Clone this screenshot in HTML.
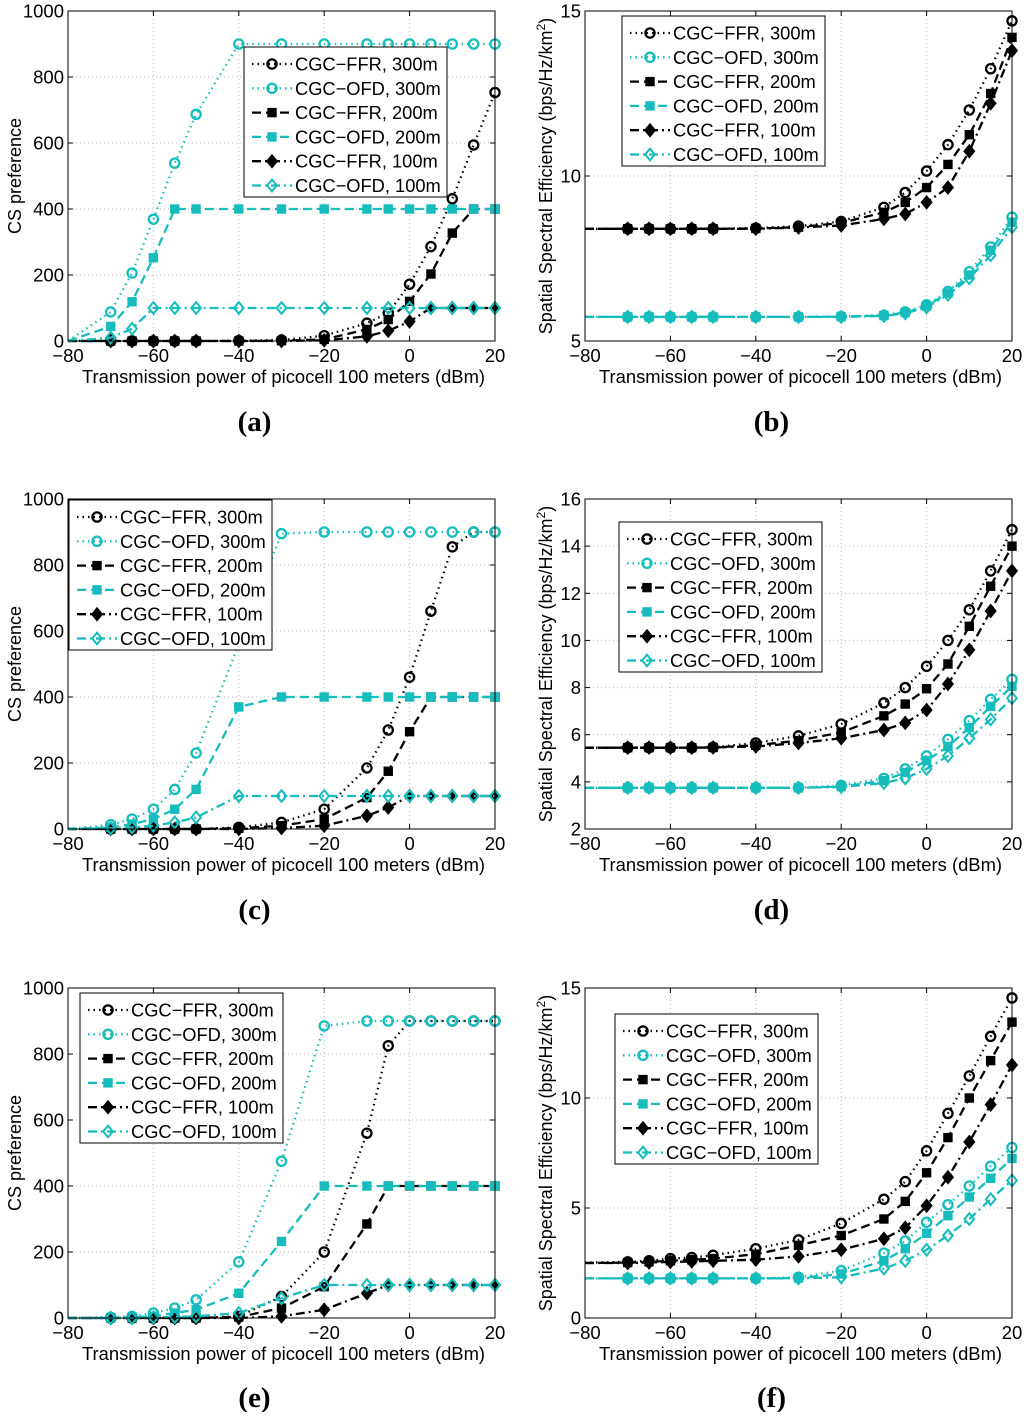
<!DOCTYPE html>
<html><head><meta charset="utf-8">
<style>
html,body{margin:0;padding:0;background:#fff;}
svg text{font-family:"Liberation Sans",sans-serif;fill:#000;}
</style></head>
<body>
<svg id="fig" width="1024" height="1412" viewBox="0 0 1024 1412" xmlns="http://www.w3.org/2000/svg"></svg>
<script>
const xVals = [-80,-70,-65,-60,-55,-50,-40,-30,-20,-10,-5,0,5,10,15,20];
const xTicks = [-80,-60,-40,-20,0,20];
const seriesNames = ["CGC\u2212FFR, 300m","CGC\u2212OFD, 300m","CGC\u2212FFR, 200m","CGC\u2212OFD, 200m","CGC\u2212FFR, 100m","CGC\u2212OFD, 100m"];

const aFFR300 = [0,0,0,0,0,0,1,3,16,54,85,172,286,431,594,753];
const aOFD300 = [0,88,206,369,539,687,900,900,900,900,900,900,900,900,900,900];
const aFFR200 = [0,0,0,0,0,0,0,1,5,35,65,120,203,327,400,400];
const aOFD200 = [0,44,119,252,400,400,400,400,400,400,400,400,400,400,400,400];
const aFFR100 = [0,0,0,0,0,0,0,0,2,14,31,59,100,100,100,100];
const aOFD100 = [0,10,37,100,100,100,100,100,100,100,100,100,100,100,100,100];

const bFFR300 = [8.4,8.4,8.4,8.4,8.4,8.4,8.42,8.48,8.62,9.05,9.5,10.15,10.95,12.0,13.25,14.7];
const bOFD300 = [5.73,5.73,5.73,5.73,5.73,5.73,5.73,5.73,5.74,5.78,5.88,6.1,6.5,7.1,7.85,8.75];
const bFFR200 = [8.4,8.4,8.4,8.4,8.4,8.4,8.41,8.45,8.58,8.9,9.2,9.65,10.35,11.25,12.5,14.2];
const bOFD200 = [5.73,5.73,5.73,5.73,5.73,5.73,5.73,5.73,5.74,5.77,5.86,6.06,6.45,7.0,7.75,8.6];
const bFFR100 = [8.4,8.4,8.4,8.4,8.4,8.4,8.4,8.44,8.5,8.7,8.85,9.2,9.65,10.75,12.2,13.8];
const bOFD100 = [5.73,5.73,5.73,5.73,5.73,5.73,5.73,5.73,5.73,5.76,5.84,6.02,6.4,6.9,7.6,8.45];

const cFFR300 = [0,0,0,0,0,0,5,20,60,185,300,460,660,855,900,900];
const cOFD300 = [0,13,30,60,120,230,560,895,900,900,900,900,900,900,900,900];
const cFFR200 = [0,0,0,0,0,0,2,10,30,95,175,295,400,400,400,400];
const cOFD200 = [0,5,15,30,60,120,370,400,400,400,400,400,400,400,400,400];
const cFFR100 = [0,0,0,0,0,0,0,3,10,40,65,100,100,100,100,100];
const cOFD100 = [0,2,5,10,20,35,100,100,100,100,100,100,100,100,100,100];

const dFFR300 = [5.45,5.45,5.45,5.45,5.45,5.47,5.65,5.95,6.45,7.35,8.0,8.9,10.0,11.3,12.95,14.7];
const dOFD300 = [3.75,3.75,3.75,3.75,3.75,3.75,3.75,3.75,3.85,4.15,4.55,5.1,5.8,6.6,7.5,8.35];
const dFFR200 = [5.45,5.45,5.45,5.45,5.45,5.46,5.55,5.75,6.1,6.8,7.3,7.95,9.0,10.6,12.3,14.0];
const dOFD200 = [3.75,3.75,3.75,3.75,3.75,3.75,3.75,3.75,3.8,4.05,4.4,4.9,5.5,6.3,7.2,8.05];
const dFFR100 = [5.45,5.45,5.45,5.45,5.45,5.46,5.5,5.65,5.85,6.2,6.5,7.05,8.15,9.6,11.25,12.95];
const dOFD100 = [3.75,3.75,3.75,3.75,3.75,3.75,3.75,3.75,3.78,3.95,4.15,4.55,5.1,5.85,6.65,7.55];

const eFFR300 = [0,0,0,0,0,0,5,65,200,560,825,900,900,900,900,900];
const eOFD300 = [0,2,5,15,30,55,170,475,885,900,900,900,900,900,900,900];
const eFFR200 = [0,0,0,0,0,0,3,30,95,285,400,400,400,400,400,400];
const eOFD200 = [0,0,2,5,15,25,75,232,400,400,400,400,400,400,400,400];
const eFFR100 = [0,0,0,0,0,0,0,5,25,75,100,100,100,100,100,100];
const eOFD100 = [0,0,0,2,3,5,15,60,100,100,100,100,100,100,100,100];

const fFFR300 = [2.52,2.55,2.6,2.7,2.75,2.85,3.15,3.55,4.3,5.4,6.2,7.6,9.3,11.0,12.8,14.55];
const fOFD300 = [1.8,1.8,1.8,1.8,1.8,1.8,1.8,1.85,2.15,2.95,3.5,4.35,5.15,6.0,6.9,7.75];
const fFFR200 = [2.5,2.52,2.55,2.6,2.65,2.7,2.9,3.3,3.75,4.5,5.3,6.6,8.2,10.0,11.7,13.45];
const fOFD200 = [1.8,1.8,1.8,1.8,1.8,1.8,1.8,1.82,2.0,2.6,3.15,3.85,4.65,5.5,6.35,7.25];
const fFFR100 = [2.5,2.5,2.52,2.55,2.57,2.6,2.65,2.8,3.1,3.6,4.1,5.1,6.4,8.0,9.7,11.5];
const fOFD100 = [1.8,1.8,1.8,1.8,1.8,1.8,1.8,1.8,1.85,2.25,2.6,3.1,3.75,4.5,5.4,6.25];

const csTicks = [0,200,400,600,800,1000];
const bTicks = [5,10,15];
const dTicks = [2,4,6,8,10,12,14,16];
const fTicks = [0,5,10,15];

const NS = "http://www.w3.org/2000/svg";
const svg = document.getElementById("fig");
const CY = "#17bcbc";
const styles = [
  {c:"#000",dash:"1.5,4",m:"circle"},
  {c:CY,dash:"1.5,4",m:"circle"},
  {c:"#000",dash:"9,5",m:"square"},
  {c:CY,dash:"9,5",m:"square"},
  {c:"#000",dash:"9,4,2,4",m:"diamond"},
  {c:CY,dash:"9,4,2,4",m:"diamond"}
];
function el(tag, attrs, parent){
  const e = document.createElementNS(NS, tag);
  for (const k in attrs) e.setAttribute(k, attrs[k]);
  (parent||svg).appendChild(e);
  return e;
}
function marker(g, type, x, y, color){
  let m;
  if (type==="circle") m = el("circle",{cx:x,cy:y,r:4.6,fill:"none",stroke:color,"stroke-width":2.3},g);
  else if (type==="square") m = el("rect",{x:x-4.2,y:y-4.2,width:8.4,height:8.4,fill:color,stroke:color,"stroke-width":1},g);
  else m = el("polygon",{points:`${x},${y-5.8} ${x+4.8},${y} ${x},${y+5.8} ${x-4.8},${y}`,fill:color==="#000"?"#000":"none",stroke:color,"stroke-width":2},g);
  
  
}
const panels = [
  {id:"a",L:68,T:11,R:495,B:341,ymin:0,ymax:1000,ticks:csTicks,ytitle:"CS preference",series:[aFFR300,aOFD300,aFFR200,aOFD200,aFFR100,aOFD100],leg:[244,47],lab:"(a)",labY:431},
  {id:"b",L:585,T:11,R:1012,B:341,ymin:5,ymax:15,ticks:bTicks,ytitle:"sse",series:[bFFR300,bOFD300,bFFR200,bOFD200,bFFR100,bOFD100],leg:[622,16],lab:"(b)",labY:431},
  {id:"c",L:68,T:499,R:495,B:829,ymin:0,ymax:1000,ticks:csTicks,ytitle:"CS preference",series:[cFFR300,cOFD300,cFFR200,cOFD200,cFFR100,cOFD100],leg:[69,500],lab:"(c)",labY:919},
  {id:"d",L:585,T:499,R:1012,B:829,ymin:2,ymax:16,ticks:dTicks,ytitle:"sse",series:[dFFR300,dOFD300,dFFR200,dOFD200,dFFR100,dOFD100],leg:[619,522],lab:"(d)",labY:919},
  {id:"e",L:68,T:988,R:495,B:1318,ymin:0,ymax:1000,ticks:csTicks,ytitle:"CS preference",series:[eFFR300,eOFD300,eFFR200,eOFD200,eFFR100,eOFD100],leg:[80,993],lab:"(e)",labY:1407},
  {id:"f",L:585,T:988,R:1012,B:1318,ymin:0,ymax:15,ticks:fTicks,ytitle:"sse",series:[fFFR300,fOFD300,fFFR200,fOFD200,fFFR100,fOFD100],leg:[615,1014],lab:"(f)",labY:1407}
];
panels.forEach(p=>{
  const g = el("g",{});
  
  
  const xs = v => p.L + (v+80)/100*(p.R-p.L);
  const ys = v => p.B - (v-p.ymin)/(p.ymax-p.ymin)*(p.B-p.T);
  el("rect",{x:p.L,y:p.T,width:p.R-p.L,height:p.B-p.T,fill:"#fff"},g);
  xTicks.forEach(t=>{
    const x = xs(t);
    if (t>-80 && t<20) el("line",{x1:x,y1:p.T,x2:x,y2:p.B,stroke:"#bbb","stroke-width":1,"stroke-dasharray":"1,3"},g);
    el("line",{x1:x,y1:p.B,x2:x,y2:p.B-5,stroke:"#000","stroke-width":1},g);
    el("line",{x1:x,y1:p.T,x2:x,y2:p.T+5,stroke:"#000","stroke-width":1},g);
    const tx = el("text",{x:x,y:p.B+21,"font-size":18.5,"text-anchor":"middle"},g);
    tx.textContent = t<0 ? "\u2212"+(-t) : String(t);
    
    
  });
  p.ticks.forEach(t=>{
    const y = ys(t);
    if (t>p.ymin && t<p.ymax) el("line",{x1:p.L,y1:y,x2:p.R,y2:y,stroke:"#bbb","stroke-width":1,"stroke-dasharray":"1,3"},g);
    el("line",{x1:p.L,y1:y,x2:p.L+5,y2:y,stroke:"#000","stroke-width":1},g);
    el("line",{x1:p.R,y1:y,x2:p.R-5,y2:y,stroke:"#000","stroke-width":1},g);
    const tx = el("text",{x:p.L-4,y:y+6.5,"font-size":18.5,"text-anchor":"end"},g);
    tx.textContent = String(t);
    
    
  });
  p.series.forEach((arr,i)=>{
    const s = styles[i];
    const pts = arr.map((v,k)=>xs(xVals[k]).toFixed(1)+","+ys(v).toFixed(1)).join(" ");
    const pl = el("polyline",{points:pts,fill:"none",stroke:s.c,"stroke-width":2.3,"stroke-dasharray":s.dash},g);
    
    
    arr.forEach((v,k)=>{ if (k>0) marker(g, s.m, xs(xVals[k]), ys(v), s.c); });
  });
  el("rect",{x:p.L,y:p.T,width:p.R-p.L,height:p.B-p.T,fill:"none",stroke:"#000","stroke-width":1},g);
  const lg = el("g",{},g);
  
  
  const [lx,ly] = p.leg;
  el("rect",{x:lx,y:ly,width:203,height:150,fill:"#fff",stroke:"#000","stroke-width":1},lg);
  seriesNames.forEach((n,i)=>{
    const s = styles[i];
    const yy = ly+17+i*24.3;
    const eg = el("g",{},lg);
    
    
    el("line",{x1:lx+8,y1:yy,x2:lx+48,y2:yy,stroke:s.c,"stroke-width":2.3,"stroke-dasharray":s.dash},eg);
    marker(eg, s.m, lx+28, yy, s.c);
    const tx = el("text",{x:lx+51,y:yy+6.5,"font-size":18.3},eg);
    tx.textContent = n;
  });
  const cx = (p.L+p.R)/2;
  const xt = el("text",{x:cx+2,y:p.B+42,"font-size":18.4,"text-anchor":"middle"},g);
  xt.textContent = "Transmission power of picocell 100 meters (dBm)";
  
  
  const cyy = (p.T+p.B)/2;
  const yx = p.ytitle==="sse" ? p.L-33 : p.L-47;
  const yt = el("text",{x:yx,y:cyy,"font-size":18,"text-anchor":"middle",transform:`rotate(-90 ${yx} ${cyy})`},g);
  if (p.ytitle==="sse"){
    yt.textContent = "Spatial Spectral Efficiency (bps/Hz/km";
    const sup = el("tspan",{"font-size":12,dy:-7},yt); sup.textContent="2";
    const cl = el("tspan",{"font-size":18,dy:7},yt); cl.textContent=")";
  } else yt.textContent = p.ytitle;
  
  
  const pl = el("text",{x:cx-27,y:p.labY,"font-size":29,"text-anchor":"middle","font-weight":"bold",style:"font-family:'Liberation Serif',serif"},g);
  pl.textContent = p.lab;
  
  
});
</script>
</body></html>
